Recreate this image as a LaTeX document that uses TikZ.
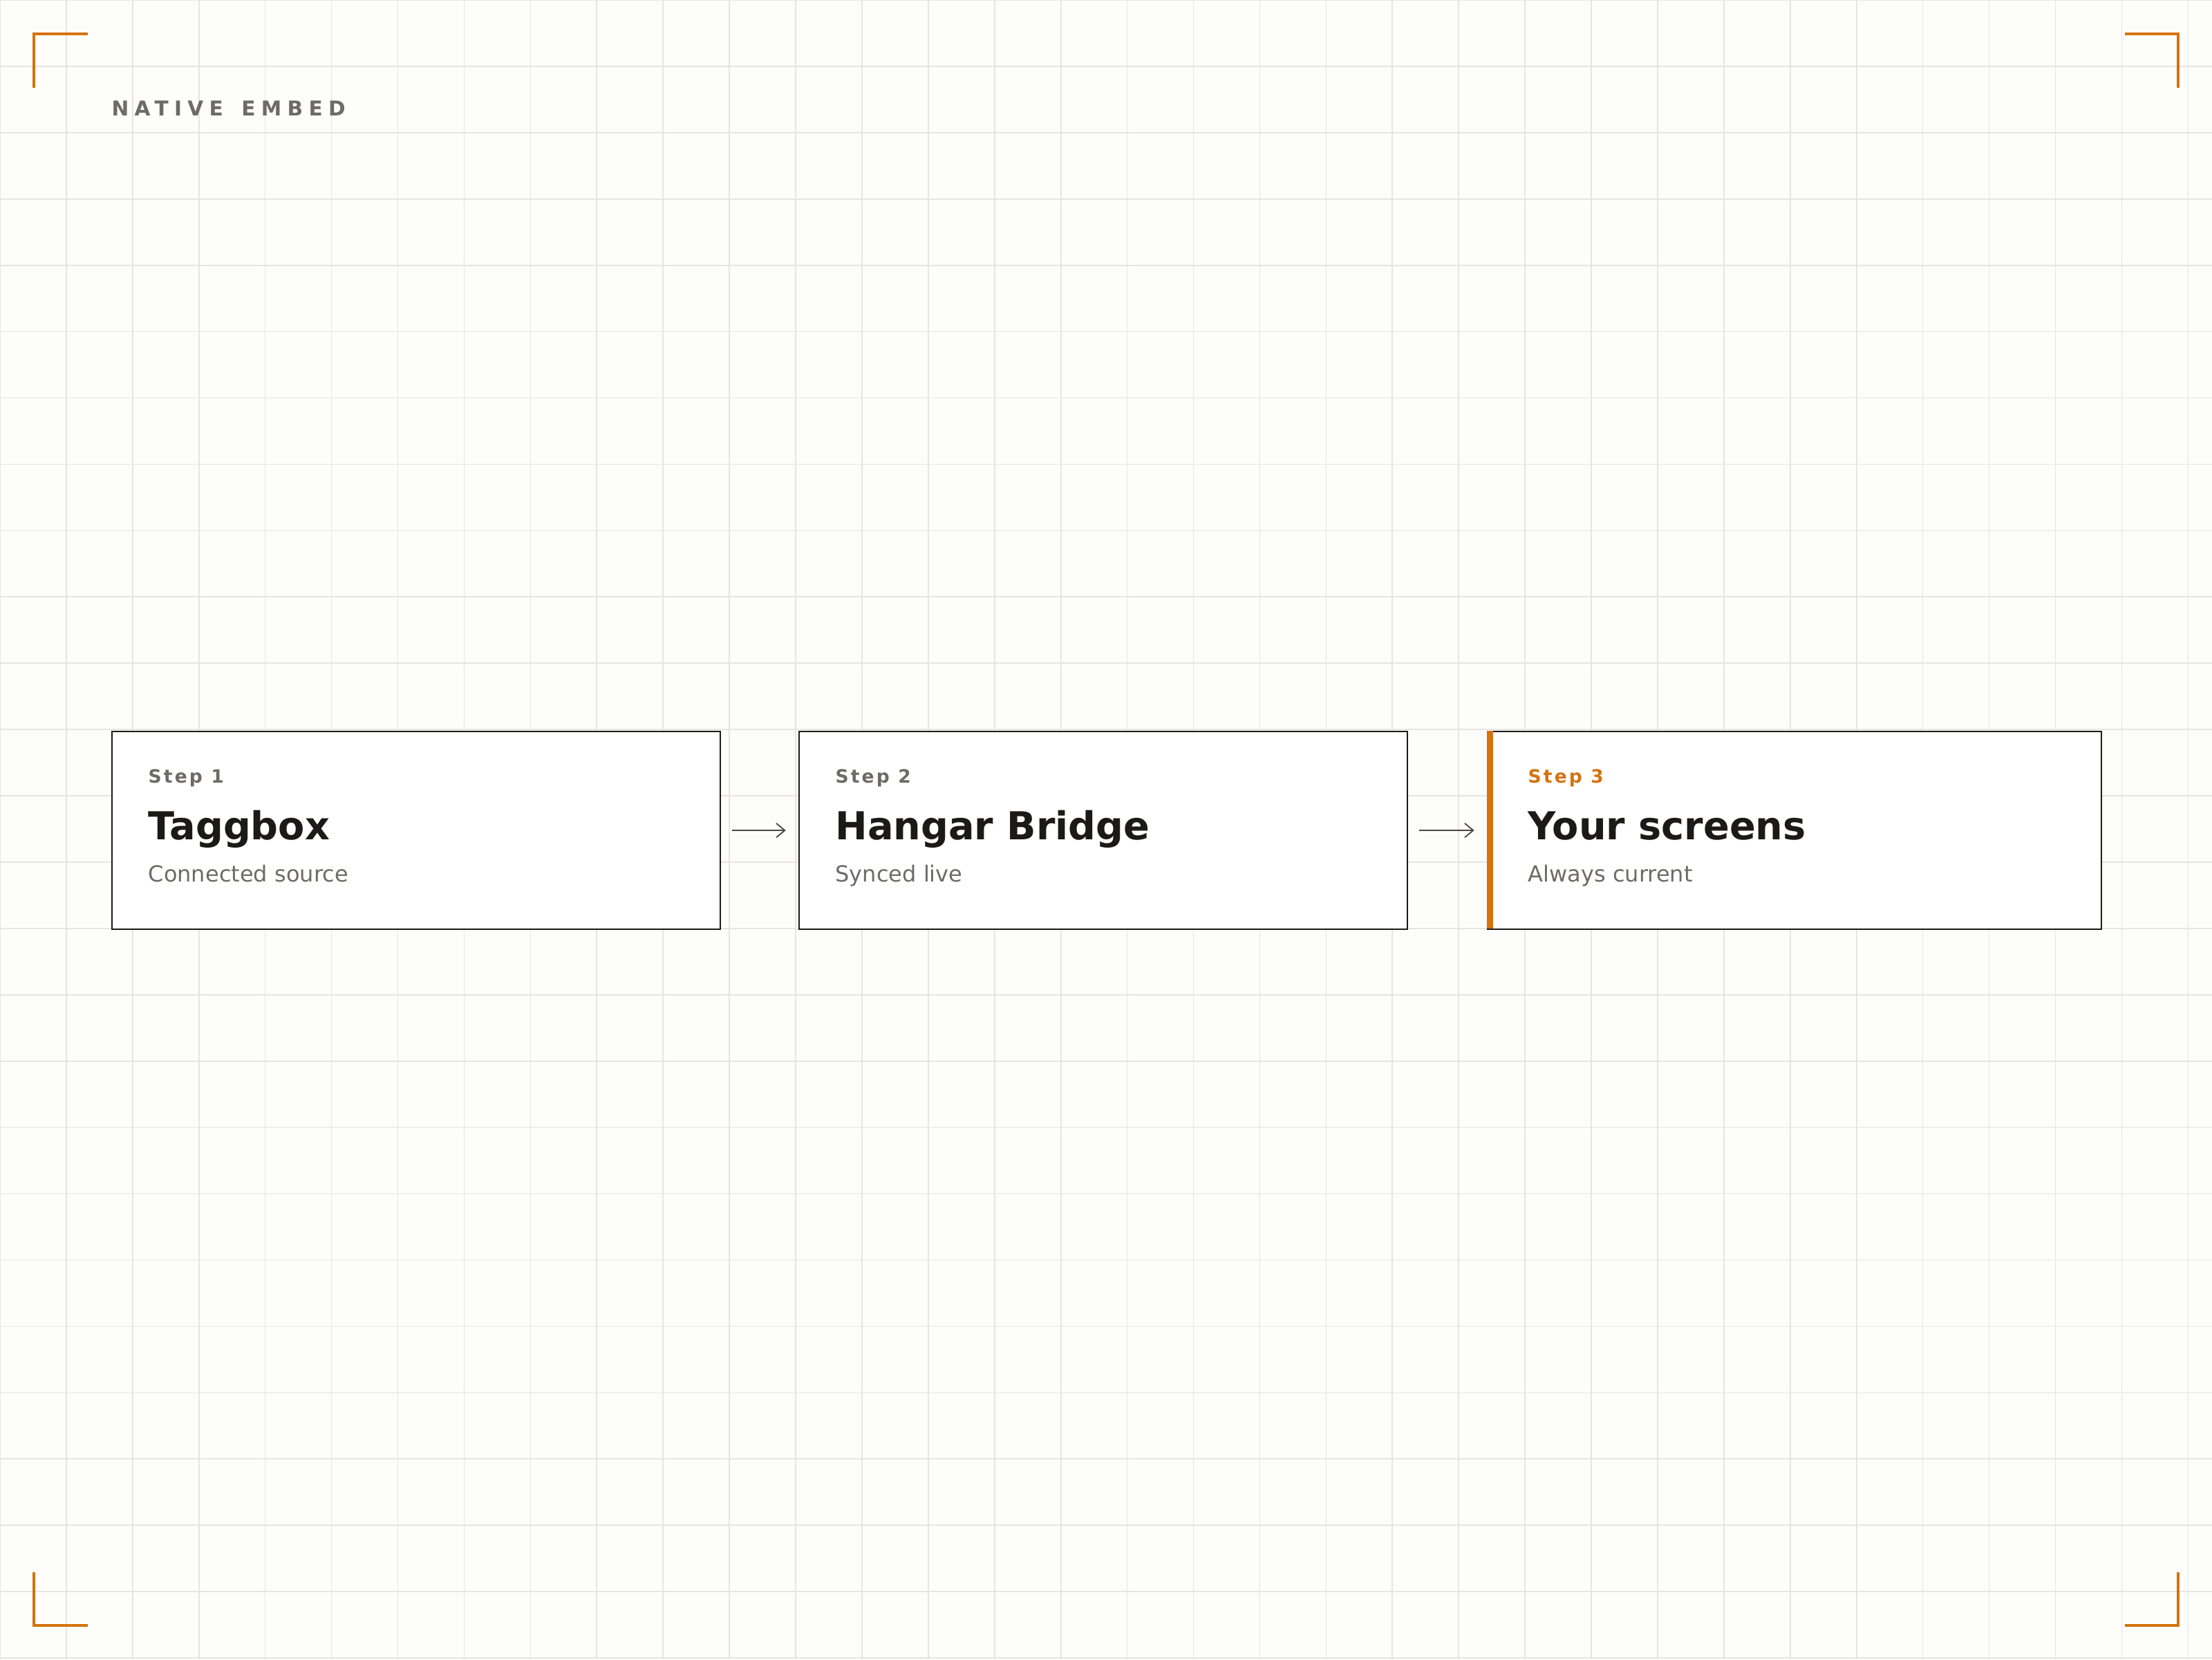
\documentclass[tikz,border=0pt]{standalone}
\usepackage{fontspec}
\setmainfont{DejaVu Sans}
\usetikzlibrary{arrows.meta}
\definecolor{bgc}{HTML}{FDFDFB}
\definecolor{gridc}{HTML}{E6E5E2}
\definecolor{acc}{HTML}{D4730F}
\definecolor{muted}{HTML}{6F6A64}
\definecolor{ink}{HTML}{1C1A18}
\tikzset{
  card/.style={draw=ink, line width=1pt, fill=white, minimum width=431pt, minimum height=140pt, anchor=north west, inner sep=0pt},
  steplbl/.style={anchor=base west, inner sep=0pt, font=\fontsize{13}{15}\selectfont\bfseries\addfontfeature{LetterSpace=12}},
  ttl/.style={anchor=base west, inner sep=0pt, text=ink, font=\fontsize{27.3}{32}\selectfont\bfseries},
  sub/.style={anchor=base west, inner sep=0pt, text=muted, font=\fontsize{15.7}{19}\selectfont},
  conn/.style={draw=ink!80, line width=0.9pt, -{Straight Barb[length=6pt,width=10pt]}},
  corner/.style={draw=acc, line width=2pt}
}
\begin{document}
\begin{tikzpicture}[x=1pt,y=-1pt]
\fill[bgc] (0,0) rectangle (1568,1176);
\useasboundingbox (0,0) rectangle (1568,1176);
\foreach \i in {0,...,33} \draw[gridc, line width=0.8pt] (\i*47,0) -- (\i*47,1176);
\foreach \i in {0,...,25} \draw[gridc, line width=0.8pt] (0,\i*47) -- (1568,\i*47);
\draw[corner] (24,62) -- (24,24) -- (62,24);
\draw[corner] (1506,24) -- (1544,24) -- (1544,62);
\draw[corner] (24,1114) -- (24,1152) -- (62,1152);
\draw[corner] (1506,1152) -- (1544,1152) -- (1544,1114);
\node[anchor=base west, inner sep=0pt, text=muted, font=\fontsize{14.5}{18}\selectfont\bfseries\addfontfeature{LetterSpace=28}] (hdr) at (79,82) {NATIVE\hspace{4pt} EMBED};
\node[card] (b1) at (79,518) {};
\node[card] (b2) at (566,518) {};
\node[card, minimum width=435pt] (b3) at (1054,518) {};
\fill[acc] (1054,518) rectangle (1058.5,658);
\node[steplbl, text=muted] (s1) at (105,555) {Step 1};
\node[ttl] (t1) at (105,595) {Taggbox};
\node[sub] (u1) at (105,625) {Connected source};
\node[steplbl, text=muted] (s2) at (592,555) {Step 2};
\node[ttl] (t2) at (592,595) {Hangar Bridge};
\node[sub] (u2) at (592,625) {Synced live};
\node[steplbl, text=acc] (s3) at (1083,555) {Step 3};
\node[ttl] (t3) at (1083,595) {Your screens};
\node[sub] (u3) at (1083,625) {Always current};
\draw[conn] ([xshift=8pt]b1.east) -- ([xshift=-9pt]b2.west);
\draw[conn] ([xshift=8pt]b2.east) -- ([xshift=-9pt]b3.west);
\end{tikzpicture}
\end{document}
